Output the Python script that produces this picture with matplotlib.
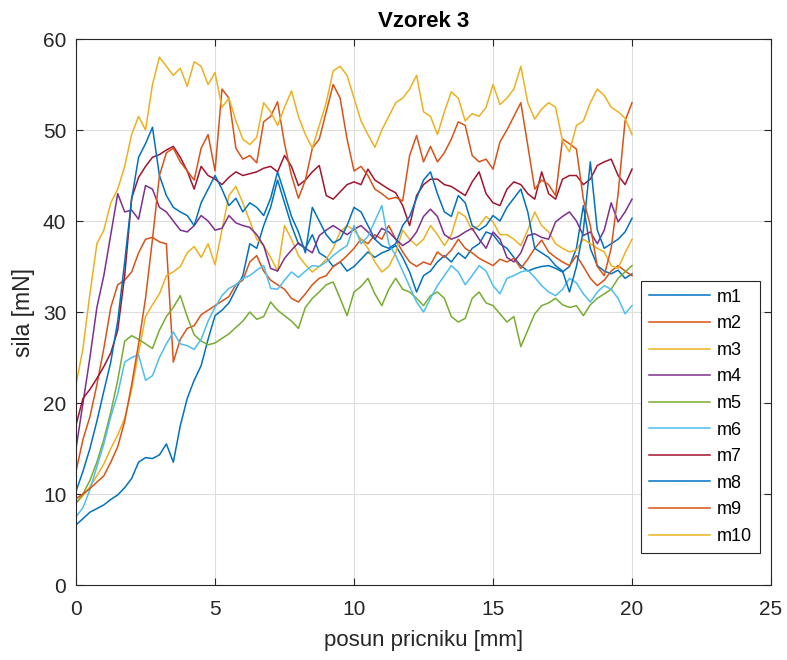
import matplotlib
matplotlib.use("Agg")
import matplotlib.pyplot as plt
import numpy as np

# posun pricniku [mm], step 0.25 mm
posun = np.arange(0, 20.01, 0.25)

m1 = [6.6, 7.3, 8.0, 8.4, 8.8, 9.4, 9.9, 10.7, 11.7, 13.5, 14.0, 13.9, 14.3, 15.5, 13.5, 17.5, 20.5,
      22.5, 24.1, 27.0, 29.6, 30.2, 31.0, 32.5, 34.0, 37.5, 37.0, 39.5, 41.5, 44.5, 42.0, 39.5, 37.5,
      37.0, 38.5, 36.5, 36.0, 35.0, 35.5, 34.5, 35.0, 35.8, 36.6, 36.0, 36.5, 36.8, 37.3, 36.0, 34.4,
      32.2, 34.0, 34.5, 35.5, 36.2, 35.5, 36.5, 35.9, 37.0, 37.5, 38.8, 38.5, 37.5, 37.0, 36.0, 35.1,
      34.5, 34.8, 35.0, 35.1, 34.8, 34.4, 35.0, 37.0, 41.7, 37.0, 35.1, 34.5, 34.2, 34.6, 33.7, 34.2]
m2 = [12.5, 16.0, 18.5, 22.0, 26.0, 30.5, 33.0, 33.5, 34.4, 36.5, 38.0, 38.2, 37.7, 37.5, 24.5, 27.0,
      28.2, 28.5, 29.7, 30.2, 30.7, 31.2, 31.7, 33.0, 33.5, 35.5, 36.2, 34.5, 33.5, 33.0, 32.5, 31.5,
      31.1, 32.0, 33.0, 33.7, 34.0, 35.0, 35.5, 36.2, 37.0, 38.0, 37.5, 38.5, 38.0, 39.5, 38.0, 36.6,
      35.5, 35.0, 35.5, 35.2, 36.6, 36.0, 36.8, 38.0, 37.0, 36.5, 35.9, 35.5, 35.1, 35.8, 35.5, 35.9,
      34.8, 35.8, 37.0, 37.9, 36.6, 36.0, 35.5, 35.1, 36.2, 35.0, 33.7, 32.9, 33.5, 34.5, 35.1, 34.5,
      34.0]
m3 = [9.0, 9.8, 10.8, 12.0, 13.3, 15.0, 16.5, 18.3, 21.5, 25.5, 29.5, 30.8, 32.0, 34.0, 34.4, 35.0,
      36.5, 37.2, 36.0, 37.5, 35.2, 39.0, 42.8, 43.8, 42.0, 40.0, 38.0, 37.3, 36.0, 34.5, 39.5, 38.0,
      36.2, 35.2, 34.4, 35.0, 35.8, 37.0, 38.8, 39.5, 39.0, 38.0, 37.0, 35.5, 34.4, 35.0, 36.5, 39.0,
      38.0, 37.3, 38.0, 39.5, 38.5, 37.3, 38.5, 41.0, 40.5, 39.0, 39.5, 40.5, 39.9, 38.5, 38.5, 38.0,
      37.3, 39.0, 41.0, 39.5, 38.8, 37.5, 37.0, 36.6, 36.8, 38.0, 37.5, 37.0, 36.6, 35.1, 34.8, 36.5,
      38.0]
m4 = [15.0, 20.0, 25.0, 30.5, 34.0, 38.5, 43.0, 41.0, 41.2, 40.2, 43.9, 43.5, 41.5, 41.0, 40.0, 39.0,
      38.8, 39.5, 40.6, 40.0, 39.0, 39.2, 40.6, 39.8, 39.5, 39.3, 38.5, 37.3, 34.8, 34.5, 35.9, 36.8,
      37.6, 37.0, 36.5, 38.4, 39.0, 39.5, 39.0, 38.5, 39.1, 39.5, 38.8, 38.0, 39.2, 38.8, 38.0, 37.3,
      37.8, 38.8, 40.5, 41.3, 40.5, 38.5, 38.0, 38.3, 38.8, 39.2, 38.0, 37.0, 38.8, 38.0, 36.0, 35.5,
      36.5, 38.4, 38.6, 38.2, 38.0, 39.9, 40.5, 41.0, 40.0, 38.4, 38.8, 37.5, 39.0, 42.0, 39.9, 41.0,
      42.4]
m5 = [9.0, 10.0, 11.5, 13.5, 16.0, 19.0, 22.5, 26.8, 27.4, 27.0, 26.5, 26.0, 28.0, 29.5, 30.5, 31.8,
      29.5, 27.5, 26.8, 26.4, 26.6, 27.1, 27.6, 28.3, 29.0, 30.0, 29.2, 29.5, 31.1, 30.2, 29.6, 29.0,
      28.2, 30.5, 31.5, 32.2, 33.0, 33.3, 31.5, 29.6, 32.2, 32.8, 33.7, 32.0, 30.7, 32.5, 33.7, 32.5,
      32.2, 31.5, 30.7, 31.8, 32.2, 31.5, 29.5, 28.9, 29.3, 31.5, 32.2, 31.0, 30.7, 29.8, 28.9, 29.5,
      26.2, 28.0, 29.8, 30.7, 31.0, 31.5, 30.8, 30.5, 30.7, 29.6, 30.8, 31.5, 32.0, 32.5, 33.7, 34.4,
      35.1]
m6 = [7.5, 8.5, 10.5, 13.0, 15.5, 18.5, 21.0, 24.5, 25.0, 25.3, 22.5, 23.0, 25.0, 26.5, 27.8, 26.5,
      26.3, 25.9, 27.0, 29.0, 30.5, 31.8, 32.6, 33.0, 33.7, 34.0, 34.6, 35.1, 32.6, 32.5, 33.5, 34.4,
      33.8, 34.5, 35.1, 35.0, 35.5, 36.2, 36.8, 37.3, 39.5, 37.5, 38.3, 40.0, 41.7, 37.5, 36.2, 34.5,
      32.8, 31.1, 30.0, 31.5, 32.9, 34.0, 35.1, 34.4, 33.0, 34.0, 35.1, 34.5, 32.9, 32.0, 33.7, 34.0,
      34.4, 34.6, 33.8, 32.9, 32.2, 31.8, 32.5, 33.7, 33.2, 32.0, 31.1, 32.2, 32.9, 32.5, 31.5, 29.8,
      30.7]
m7 = [17.6, 20.5, 21.5, 22.7, 24.0, 25.5, 28.0, 34.0, 42.5, 44.8, 46.0, 47.0, 47.3, 47.8, 48.2, 47.0,
      45.5, 43.5, 46.0, 45.0, 44.6, 44.0, 44.8, 45.4, 45.0, 45.2, 45.4, 45.8, 46.0, 45.4, 47.2, 46.0,
      43.9, 44.5, 45.4, 46.1, 42.8, 42.4, 43.2, 44.0, 44.3, 44.0, 45.7, 44.5, 44.0, 43.5, 43.1, 41.7,
      39.5, 42.8, 44.0, 44.6, 44.6, 44.0, 43.8, 43.3, 42.8, 44.3, 45.4, 43.0, 42.0, 41.7, 43.5, 44.3,
      44.0, 43.0, 42.4, 45.4, 43.0, 42.4, 44.6, 45.0, 45.0, 44.0, 44.6, 46.1, 46.5, 46.8, 45.0, 44.0,
      45.7]
m8 = [10.3, 12.5, 15.0, 18.0, 21.3, 24.5, 29.0, 35.5, 42.4, 47.0, 48.5, 50.3, 45.0, 42.8, 41.5, 41.0,
      40.6, 39.5, 42.0, 43.5, 45.0, 43.5, 41.7, 42.5, 41.0, 42.0, 41.5, 40.6, 42.5, 45.4, 43.0, 40.5,
      38.8, 36.5, 41.5, 40.0, 38.5, 37.6, 38.0, 39.5, 41.5, 41.0, 39.5, 38.0, 37.3, 37.0, 37.5, 39.5,
      40.5, 42.5, 44.5, 45.4, 43.0, 41.0, 40.5, 42.8, 42.0, 39.5, 39.0, 39.5, 40.6, 40.0, 41.5, 42.5,
      43.5, 41.0, 37.0, 36.5, 36.0, 35.1, 34.5, 32.2, 35.0, 39.0, 46.5, 39.0, 37.0, 37.5, 38.0, 38.8,
      40.3]
m9 = [9.5, 10.0, 10.6, 11.3, 12.0, 13.5, 15.2, 18.0, 22.0, 26.5, 31.5, 38.0, 45.0, 47.5, 48.0, 46.5,
      45.5, 44.5, 48.0, 49.5, 45.5, 54.5, 53.5, 48.0, 46.8, 47.2, 46.4, 50.9, 51.5, 53.1, 48.5, 45.0,
      42.5, 44.5, 48.0, 49.0, 52.0, 55.0, 53.5, 49.0, 45.5, 46.0, 45.0, 43.5, 43.0, 42.4, 42.6, 42.2,
      47.2, 49.4, 46.5, 48.2, 46.5, 47.5, 49.0, 50.9, 50.5, 47.2, 46.5, 46.8, 45.7, 48.7, 50.0, 51.5,
      53.0, 48.3, 43.5, 44.5, 44.0, 42.8, 49.0, 48.5, 47.9, 42.4, 39.5, 35.0, 34.0, 37.0, 43.0, 51.0,
      53.0]
m10 = [22.0, 26.0, 32.0, 37.5, 39.0, 42.0, 43.5, 46.0, 49.5, 51.5, 50.0, 55.0, 58.0, 57.0, 56.0, 56.8,
       54.8, 57.5, 57.0, 55.0, 56.3, 52.5, 53.5, 51.0, 49.0, 48.4, 49.2, 53.0, 52.0, 50.5, 52.5, 54.3,
       51.5, 49.5, 48.0, 50.5, 53.0, 56.5, 57.0, 56.0, 53.5, 51.0, 49.5, 48.1, 50.0, 51.5, 53.0, 53.5,
       54.5, 56.0, 52.0, 51.5, 49.5, 52.0, 54.2, 53.5, 51.0, 51.8, 51.5, 52.5, 55.0, 52.8, 53.5, 54.5,
       57.0, 53.0, 51.2, 52.3, 53.0, 52.5, 48.8, 47.6, 50.5, 51.0, 53.0, 54.5, 53.8, 52.5, 52.0, 51.3,
       49.5]

series = [m1, m2, m3, m4, m5, m6, m7, m8, m9, m10]
labels = ["m1", "m2", "m3", "m4", "m5", "m6", "m7", "m8", "m9", "m10"]
# MATLAB default colour order, it repeats after 7
colors = ["#0072BD", "#D95319", "#EDB120", "#7E2F8E", "#77AC30", "#4DBEEE", "#A2142F",
          "#0072BD", "#D95319", "#EDB120"]

plt.rcParams["font.family"] = ["Liberation Sans", "DejaVu Sans"]

fig = plt.figure(figsize=(7.87, 6.6), dpi=100)
ax = fig.add_axes([0.0966, 0.1136, 0.8831, 0.8273])

for y, lab, c in zip(series, labels, colors):
    ax.plot(posun, y, color=c, lw=1.1, label=lab)

ax.set_xlim(0, 25)
ax.set_ylim(0, 60)
ax.set_xticks([0, 5, 10, 15, 20, 25])
ax.set_yticks([0, 10, 20, 30, 40, 50, 60])
ax.grid(True, color="#dedede", lw=0.8)
ax.set_axisbelow(True)
ax.tick_params(direction="in", top=True, right=True, length=5, labelsize=15,
               colors="#262626", labelcolor="#262626")
ax.tick_params(axis="x", pad=11)
ax.tick_params(axis="y", pad=7)
for s in ax.spines.values():
    s.set_color("#262626")
    s.set_linewidth(0.8)

ax.set_title("Vzorek 3", fontsize=16, fontweight="bold", color="black", pad=9)
ax.set_xlabel("posun pricniku [mm]", fontsize=16, color="#262626", labelpad=8)
ax.set_ylabel("sila [mN]", fontsize=16.5, color="#262626", labelpad=6)

leg = ax.legend(loc="lower right", bbox_to_anchor=(0.984, 0.0586), borderaxespad=0,
                fontsize=13, handlelength=3.4, labelspacing=0.53, borderpad=0.45,
                handletextpad=0.35, fancybox=False, framealpha=1, edgecolor="#262626")
leg.get_frame().set_linewidth(0.8)

fig.savefig("out.png", dpi=100)
